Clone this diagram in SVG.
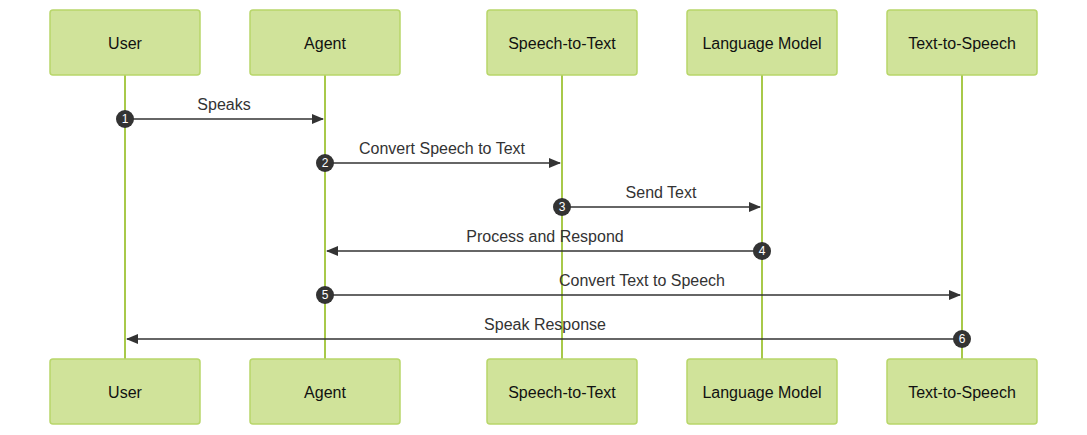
<svg xmlns="http://www.w3.org/2000/svg" width="1087" height="435" viewBox="0 0 1087 435">
<style>
.box{fill:#d0e39a;stroke:#b8d66a;stroke-width:1.5}
.bt{font-family:"Liberation Sans",Arial,sans-serif;font-size:16px;fill:#111;text-anchor:middle;dominant-baseline:central}
.life{stroke:#a8c94a;stroke-width:2}
.msg{stroke:#333;stroke-width:1.5;fill:none;marker-end:url(#ah)}
.ml{font-family:"Liberation Sans",Arial,sans-serif;font-size:16px;fill:#333;text-anchor:middle}
.num circle{fill:#333}
.num text{font-family:"Liberation Sans",Arial,sans-serif;font-size:12px;fill:#fff;text-anchor:middle;dominant-baseline:central}
</style>
<defs><marker id="ah" markerWidth="12" markerHeight="10" refX="11" refY="5" orient="auto" markerUnits="userSpaceOnUse"><path d="M0,0L12,5L0,10z" fill="#333"/></marker></defs>
<rect width="1087" height="435" fill="#fff"/>
<g id="lifelines">
<line class="life" x1="125" y1="75" x2="125" y2="359"/>
<line class="life" x1="325" y1="75" x2="325" y2="359"/>
<line class="life" x1="562" y1="75" x2="562" y2="359"/>
<line class="life" x1="762" y1="75" x2="762" y2="359"/>
<line class="life" x1="962" y1="75" x2="962" y2="359"/>
</g>
<g id="user-top"><rect class="box" x="50" y="10" width="150" height="65" rx="3"/><text class="bt" x="125" y="43">User</text></g>
<g id="agent-top"><rect class="box" x="250" y="10" width="150" height="65" rx="3"/><text class="bt" x="325" y="43">Agent</text></g>
<g id="stt-top"><rect class="box" x="487" y="10" width="150" height="65" rx="3"/><text class="bt" x="562" y="43">Speech-to-Text</text></g>
<g id="lm-top"><rect class="box" x="687" y="10" width="150" height="65" rx="3"/><text class="bt" x="762" y="43">Language Model</text></g>
<g id="tts-top"><rect class="box" x="887" y="10" width="150" height="65" rx="3"/><text class="bt" x="962" y="43">Text-to-Speech</text></g>
<g id="user-bottom"><rect class="box" x="50" y="359" width="150" height="65" rx="3"/><text class="bt" x="125" y="392">User</text></g>
<g id="agent-bottom"><rect class="box" x="250" y="359" width="150" height="65" rx="3"/><text class="bt" x="325" y="392">Agent</text></g>
<g id="stt-bottom"><rect class="box" x="487" y="359" width="150" height="65" rx="3"/><text class="bt" x="562" y="392">Speech-to-Text</text></g>
<g id="lm-bottom"><rect class="box" x="687" y="359" width="150" height="65" rx="3"/><text class="bt" x="762" y="392">Language Model</text></g>
<g id="tts-bottom"><rect class="box" x="887" y="359" width="150" height="65" rx="3"/><text class="bt" x="962" y="392">Text-to-Speech</text></g>
<g id="connectors">
<line class="msg" x1="125" y1="119" x2="323" y2="119"/><text class="ml" x="224" y="110">Speaks</text>
<line class="msg" x1="325" y1="163" x2="560" y2="163"/><text class="ml" x="442" y="154">Convert Speech to Text</text>
<line class="msg" x1="562" y1="207" x2="760" y2="207"/><text class="ml" x="661" y="198">Send Text</text>
<line class="msg" x1="762" y1="251" x2="327" y2="251"/><text class="ml" x="545" y="242">Process and Respond</text>
<line class="msg" x1="325" y1="295" x2="960" y2="295"/><text class="ml" x="642" y="286">Convert Text to Speech</text>
<line class="msg" x1="962" y1="339" x2="127" y2="339"/><text class="ml" x="545" y="330">Speak Response</text>
<g class="num"><circle cx="125" cy="119" r="9"/><text x="125" y="119">1</text></g>
<g class="num"><circle cx="325" cy="163" r="9"/><text x="325" y="163">2</text></g>
<g class="num"><circle cx="562" cy="207" r="9"/><text x="562" y="207">3</text></g>
<g class="num"><circle cx="762" cy="251" r="9"/><text x="762" y="251">4</text></g>
<g class="num"><circle cx="325" cy="295" r="9"/><text x="325" y="295">5</text></g>
<g class="num"><circle cx="962" cy="339" r="9"/><text x="962" y="339">6</text></g>
</g>
</svg>
